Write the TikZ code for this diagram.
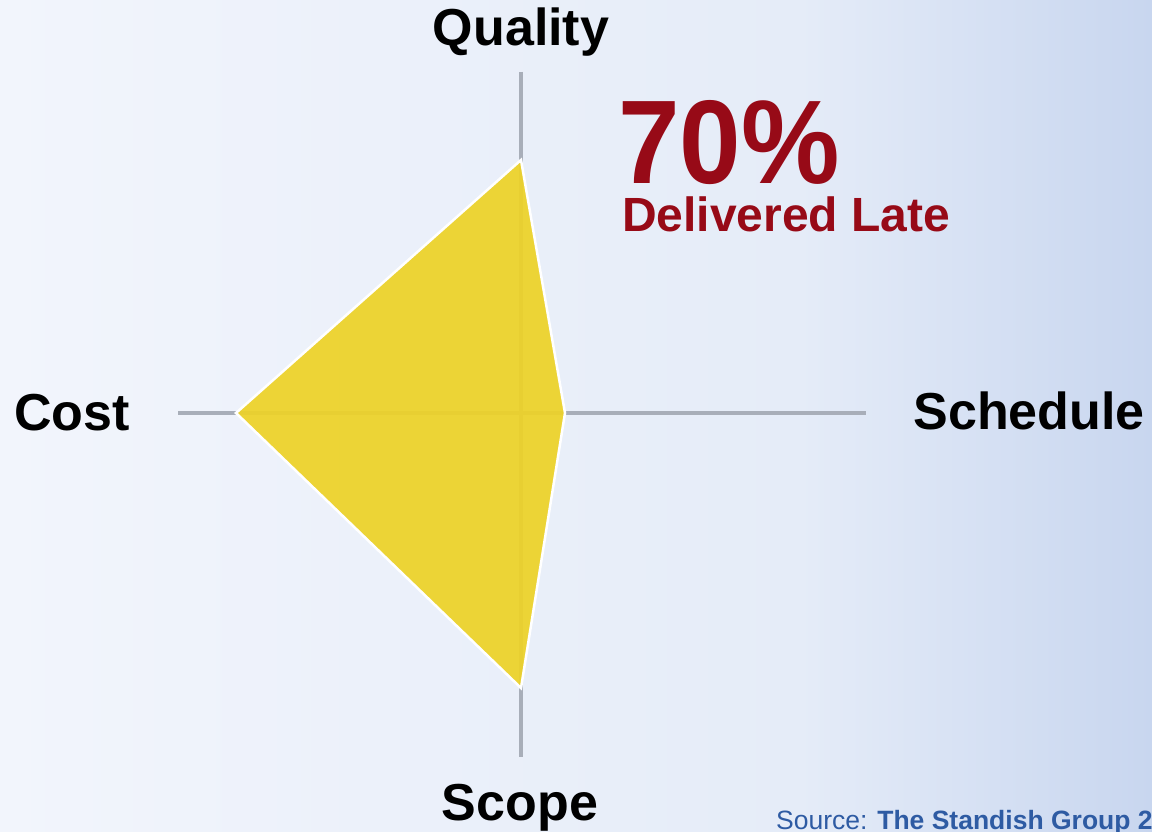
\documentclass[tikz,border=0pt]{standalone}
\usepackage{fontspec}
\setmainfont{Liberation Sans}
\definecolor{bgL}{HTML}{F2F5FC}
\definecolor{bgM}{HTML}{E5ECF8}
\definecolor{bgR}{HTML}{C8D6EF}
\definecolor{axisgray}{HTML}{A8AEB9}
\definecolor{riskyellow}{HTML}{EDD228}
\definecolor{latered}{HTML}{970A17}
\definecolor{srcblue}{HTML}{2E5BA3}
\tikzset{
  axisline/.style={draw=axisgray, line width=4pt},
  axislabel/.style={font=\bfseries\fontsize{52}{52}\selectfont, text=black, inner sep=0pt},
  riskshape/.style={fill=riskyellow, fill opacity=0.93, draw=white, line width=2.5pt, line join=miter},
}
\begin{document}
\begin{tikzpicture}[x=1pt,y=-1pt]
\useasboundingbox (0,0) rectangle (1152,832);
\clip (0,0) rectangle (1152,832);
\shade[left color=bgL, right color=bgM] (0,0) rectangle (800,832);
\shade[left color=bgM, right color=bgR] (799.5,0) rectangle (1152,832);
% axes
\coordinate (qtop) at (521,72);
\coordinate (sbot) at (521,757);
\coordinate (cleft) at (178,413);
\coordinate (sright) at (866,413);
\draw[axisline] (qtop) -- (sbot);
\draw[axisline] (cleft) -- (sright);
% polygon
\coordinate (pq) at (521,160);
\coordinate (ps) at (565,413);
\coordinate (pp) at (521,688);
\coordinate (pc) at (236,413);
\draw[riskshape] (pq) -- (ps) -- (pp) -- (pc) -- cycle;
% labels
\node[axislabel] (quality) at (521,32) {Quality};
\node[axislabel, anchor=west] (cost) at (14,413) {Cost};
\node[axislabel, anchor=east] (schedule) at (1145,411) {Schedule};
\node[axislabel] (scope) at (520,808) {Scope};
\node[anchor=base west, inner sep=0pt, text depth=0pt, text=latered, xscale=0.93, font=\bfseries\fontsize{119}{119}\selectfont] (pct) at (618,183) {70\%};
\node[anchor=base west, inner sep=0pt, text height=34pt, text=latered, font=\bfseries\fontsize{48}{48}\selectfont] (late) at (622,231) {Delivered Late};
\node[anchor=base west, inner sep=0pt, text=srcblue, font=\fontsize{26.5}{26.5}\selectfont] (src) at (776,829) {Source: \textbf{The Standish Group 20}};
\end{tikzpicture}
\end{document}
